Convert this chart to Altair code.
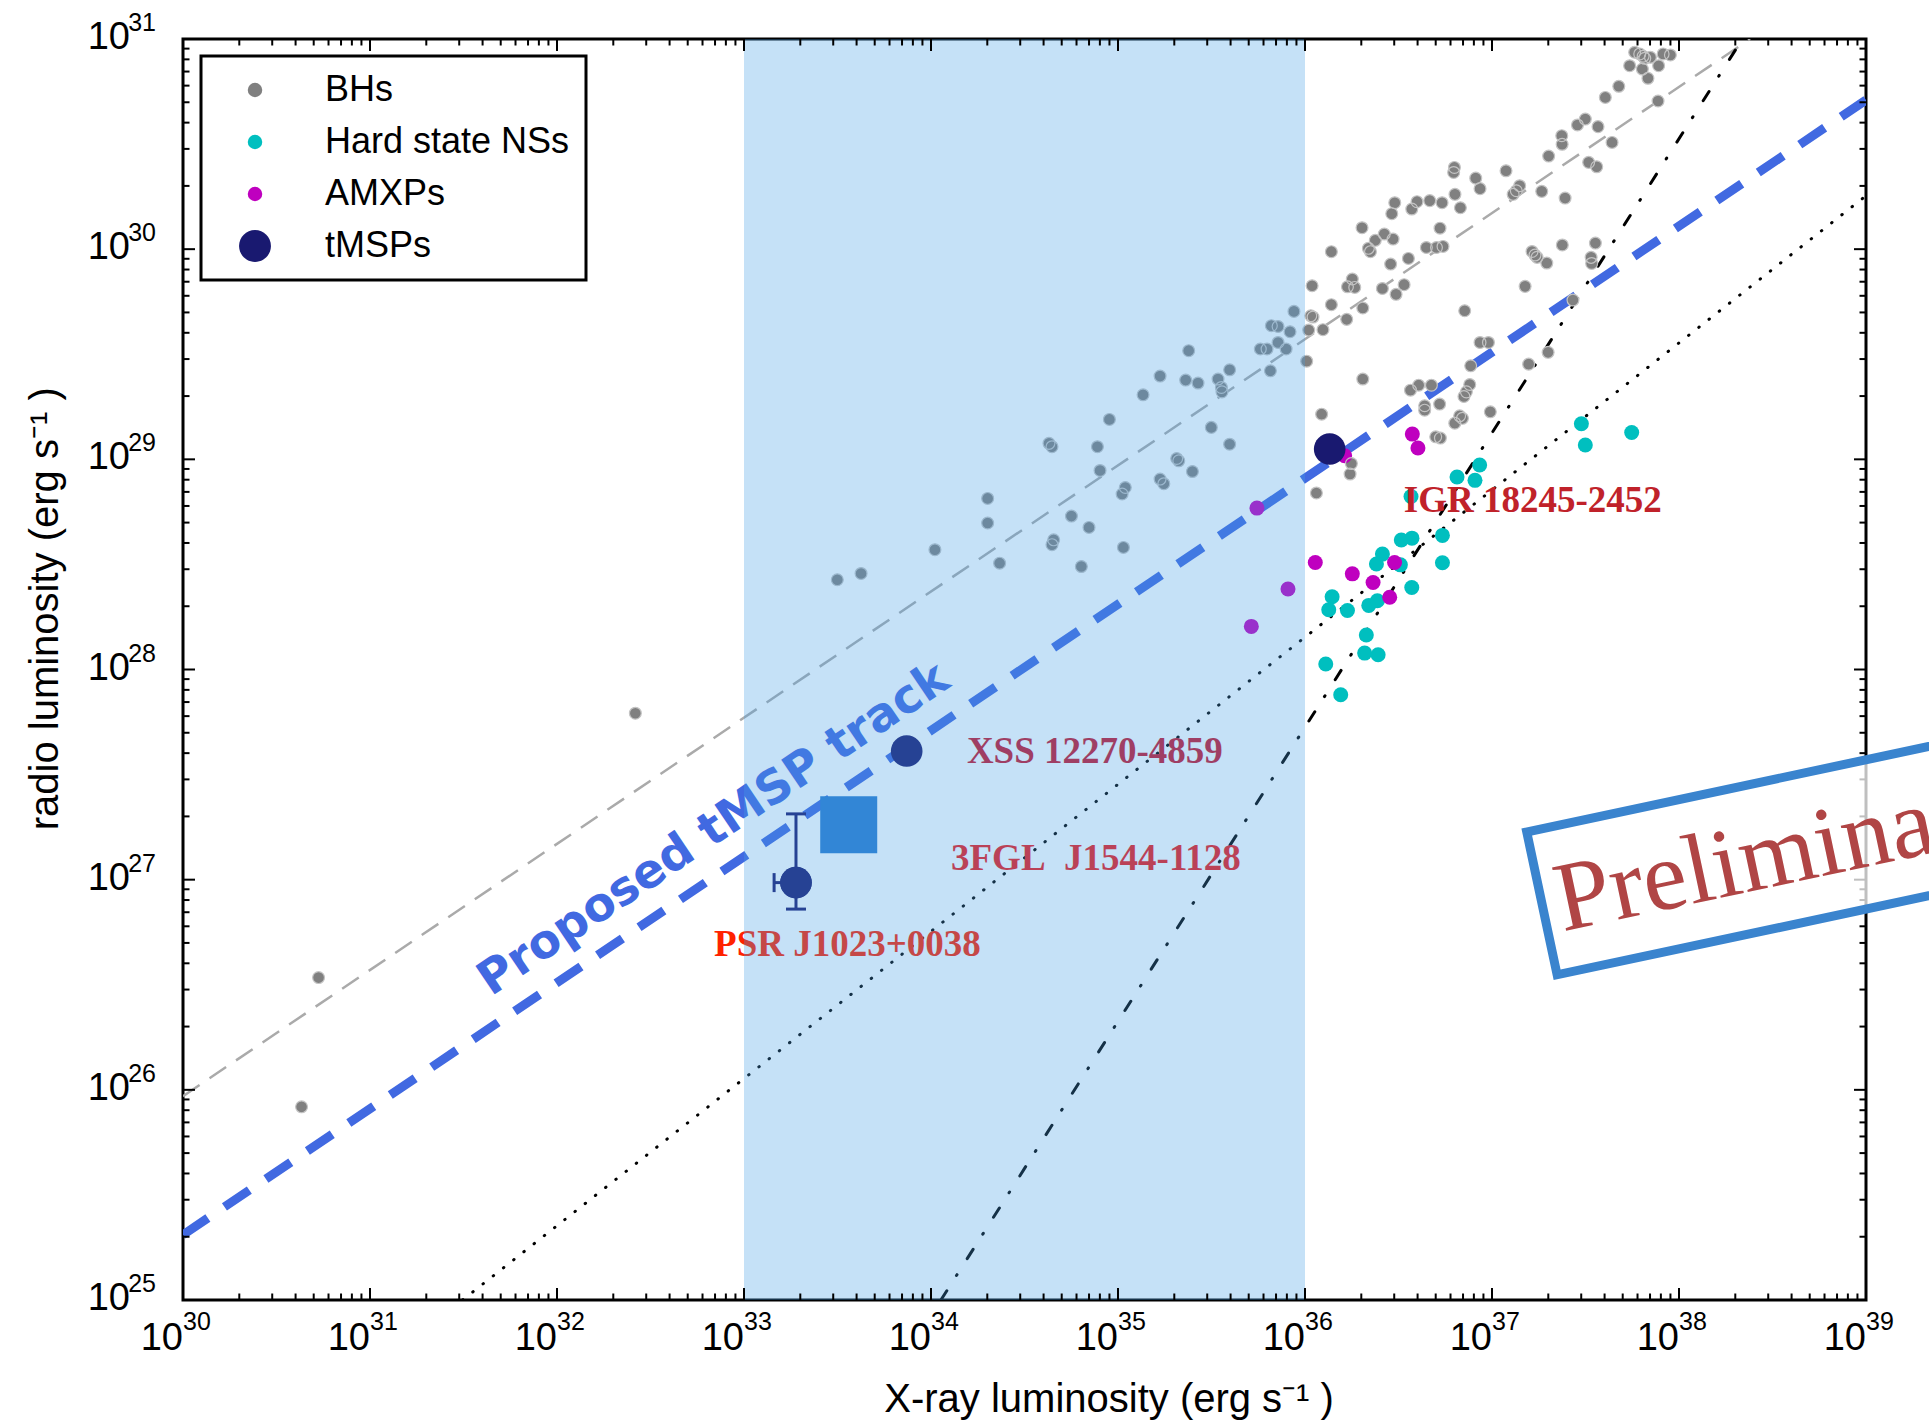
import altair as alt
import pandas as pd

# ---------------- data (log10 luminosities) ----------------
bh_lx = [37.763, 37.790, 37.808, 37.817, 37.847, 37.915, 37.954, 37.736, 37.804, 37.891,
         37.834, 37.678, 37.606, 37.888, 37.457, 37.499, 37.567, 37.642, 37.373, 37.375,
         37.303, 37.517, 37.560, 37.075, 36.799, 36.795, 36.913, 36.936, 37.148, 37.130,
         37.113, 37.266, 37.391, 36.802, 36.831, 36.480, 36.464, 36.599, 36.571, 36.667,
         36.733, 36.305, 36.424, 36.376, 36.471, 36.339, 36.350, 36.722, 36.141, 36.649,
         36.703, 36.738, 36.553, 36.458, 37.214, 37.230, 37.241, 37.293, 37.376, 37.553,
         37.530, 37.533, 36.038, 36.253, 36.227, 36.266, 36.414, 36.487, 36.530, 37.177,
         36.141, 36.309, 36.223, 36.031, 36.043, 36.020, 36.096, 36.854, 37.433, 36.009,
         36.936, 36.981, 37.300, 37.196, 36.886, 36.309, 36.564, 36.608, 36.676, 36.881,
         36.863, 36.850, 36.720, 36.640, 36.640, 36.991, 36.089, 36.827, 36.842, 36.801,
         36.699, 36.724, 36.248, 36.241, 36.061,
         35.941, 35.820, 35.856, 35.920, 35.378, 35.761, 35.797, 35.856, 35.899, 35.362,
         35.428, 35.535, 35.553, 35.556, 35.597, 35.815, 35.499, 35.597, 35.398,
         35.225, 35.134, 34.954, 34.631, 34.647, 34.890, 34.904, 34.303, 34.303, 34.751,
         34.845, 34.656, 34.647, 35.029, 35.039, 35.022, 35.225, 35.245, 35.314, 35.325,
         34.021, 33.499, 33.626, 34.367, 34.804,
         32.419, 30.725, 30.634]
bh_lr = [30.937, 30.929, 30.918, 30.908, 30.913, 30.929, 30.924, 30.873, 30.857, 30.873,
         30.813, 30.775, 30.722, 30.705, 30.591, 30.619, 30.583, 30.508, 30.540, 30.499,
         30.443, 30.413, 30.392, 30.373, 30.389, 30.365, 30.338, 30.288, 30.302, 30.278,
         30.261, 30.275, 30.243, 30.261, 30.197, 30.221, 30.169, 30.226, 30.191, 30.231,
         30.221, 30.102, 30.072, 30.042, 30.048, 30.004, 29.988, 30.100, 29.988, 30.008,
         30.008, 30.013, 29.956, 29.929, 29.989, 29.972, 29.961, 29.934, 30.020, 30.029,
         29.961, 29.932, 29.826, 29.858, 29.821, 29.818, 29.813, 29.785, 29.831, 29.823,
         29.736, 29.720, 29.666, 29.683, 29.677, 29.615, 29.617, 29.707, 29.758, 29.467,
         29.556, 29.556, 29.509, 29.453, 29.445, 29.382, 29.329, 29.353, 29.353, 29.356,
         29.321, 29.299, 29.263, 29.255, 29.234, 29.226, 29.215, 29.207, 29.195, 29.172,
         29.107, 29.101, 28.980, 28.930, 28.840,
         29.704, 29.636, 29.632, 29.607, 29.517, 29.525, 29.525, 29.556, 29.525, 29.377,
         29.363, 29.382, 29.342, 29.321, 29.426, 29.421, 29.152, 29.072, 28.942,
         29.396, 29.307, 29.190, 29.076, 29.060, 29.060, 28.947, 28.814, 28.697, 28.730,
         28.676, 28.617, 28.594, 28.581, 28.866, 28.835, 28.906, 28.884, 29.004, 28.993,
         28.570, 28.427, 28.457, 28.506, 28.490,
         27.792, 26.534, 25.919]

ns_lx = [37.478, 37.747, 37.499, 36.934, 36.813, 36.909, 36.567, 36.515, 36.572, 36.735,
         36.735, 36.414, 36.382, 36.510, 36.571, 36.145, 36.127, 36.227, 36.341, 36.387,
         36.328, 36.319, 36.391, 36.111, 36.191]
ns_lr = [29.169, 29.128, 29.068, 28.973, 28.916, 28.900, 28.823, 28.616, 28.625, 28.638,
         28.508, 28.549, 28.502, 28.498, 28.390, 28.346, 28.284, 28.281, 28.305, 28.327,
         28.164, 28.078, 28.070, 28.026, 27.880]

amxp_lx = [36.574, 36.604, 36.212, 35.743, 36.055, 36.253, 36.364, 36.479, 36.453, 35.909, 35.713]
amxp_lr = [29.120, 29.054, 29.017, 28.768, 28.509, 28.455, 28.414, 28.509, 28.344, 28.383, 28.205]

tmsp_names = ["IGR 18245-2452", "XSS 12270-4859", "PSR J1023+0038"]
tmsp_lx = [36.132, 33.870, 33.278]
tmsp_lr = [29.049, 27.612, 26.986]

# PSR J1023+0038 error bars (log10)
psr_lr_lo, psr_lr_hi = 26.860, 27.313
psr_lx_lo = 33.161

# candidate 3FGL J1544-1128
cand_lx = [33.560]
cand_lr = [27.261]

# correlation lines: endpoints (log10 Lx, log10 Lr)
bh_track_lx, bh_track_lr = [30.0, 38.38], [25.97, 31.0]
tmsp_track_lx, tmsp_track_lr = [30.0, 39.0], [25.31, 30.71]
ns_track_lx, ns_track_lr = [31.495, 39.0], [25.0, 30.254]
steep_track_lx, steep_track_lr = [34.053, 38.339], [25.0, 31.0]

shade_lx = [33.0, 36.0]

label_text = ["IGR 18245-2452", "XSS 12270-4859", "3FGL\u00a0 J1544-1128", "PSR J1023+0038"]
label_lx = [36.528, 34.192, 34.107, 32.840]
label_lr = [28.800, 27.606, 27.098, 26.691]
label_col = ["#C0222A", "#C8142A", "#F01818", "#FF2200"]

track_text_pos = (32.88, 27.183)
stamp_box_pos = (38.661, 27.151)
stamp_text_pos = (38.601, 26.985)

x_title = "X-ray luminosity (erg s\u207b\u00b9 )"
y_title = "radio luminosity (erg s\u207b\u00b9 )"
x_title_pos = (33.75, 25.0)
y_title_pos = (30.0, 27.235)

classes = ["BHs", "Hard state NSs", "AMXPs", "tMSPs"]
class_colors = ["#808080", "#00BFBF", "#BF00BF", "#191970"]
# big circle path (radius 2.2 in unit symbol space) for the tMSPs
BIG = "M -2.2 0 A 2.2 2.2 0 1 0 2.2 0 A 2.2 2.2 0 1 0 -2.2 0 Z"
class_shapes = ["circle", "circle", "circle", BIG]
class_sizes = [140, 225, 225, 207]   # tMSP: 207 * 2.2^2 ~ 1000 px^2

x_exps = list(range(30, 40))
y_exps = list(range(25, 32))

# ---------------- frames ----------------
p = lambda v: 10 ** v
size_of = dict(zip(classes, class_sizes))
cls_list = (["BHs"] * len(bh_lx) + ["Hard state NSs"] * len(ns_lx)
            + ["AMXPs"] * len(amxp_lx) + ["tMSPs"] * len(tmsp_lx))
pts = pd.DataFrame({
    "lx": [p(v) for v in bh_lx + ns_lx + amxp_lx + tmsp_lx],
    "lr": [p(v) for v in bh_lr + ns_lr + amxp_lr + tmsp_lr],
    "cls": cls_list,
    "sz": [size_of[c] for c in cls_list],
})
bh_df = pts[pts.cls == "BHs"]

W, H = 1683, 1261
XS = alt.Scale(type="log", domain=[1e30, 1e39], nice=False)
YS = alt.Scale(type="log", domain=[1e25, 1e31], nice=False)
SANS = "Liberation Sans, Arial, Helvetica, sans-serif"
SERIF = "Liberation Serif, Times New Roman, serif"


def X(f):
    return alt.X(f, type="quantitative", scale=XS, axis=None)


def Y(f):
    return alt.Y(f, type="quantitative", scale=YS, axis=None)


def line_layer(lx, lr, color, width, dash, cap="butt"):
    d = pd.DataFrame({"lx": [p(v) for v in lx], "lr": [p(v) for v in lr]})
    return alt.Chart(d).mark_line(clip=True, color=color, strokeWidth=width,
                                  strokeDash=dash, strokeCap=cap).encode(
        x=X("lx"), y=Y("lr"))


# base layer carrying the (invisible) axes
base = alt.Chart(pd.DataFrame({"lx": [1e30], "lr": [1e25]})).mark_point(opacity=0).encode(
    x=alt.X("lx:Q", scale=XS, axis=alt.Axis(labels=False, ticks=False, domain=False, grid=False, title=None)),
    y=alt.Y("lr:Q", scale=YS, axis=alt.Axis(labels=False, ticks=False, domain=False, grid=False, title=None)),
)

bh_line = line_layer(bh_track_lx, bh_track_lr, "#AAAAAA", 2.5, [20, 12])
ns_line = line_layer(ns_track_lx, ns_track_lr, "black", 3, [0.5, 12.5], cap="round")
steep_line = line_layer(steep_track_lx, steep_track_lr, "black", 3, [11, 18, 1, 19], cap="round")
tmsp_line = line_layer(tmsp_track_lx, tmsp_track_lr, "#4169E1", 9, [30, 20])

legend_kw = dict(title=None, orient="none", legendX=18, legendY=17)
scatter = alt.Chart(pts).mark_point(filled=True, opacity=1).encode(
    x=X("lx"), y=Y("lr"),
    color=alt.Color("cls:N", scale=alt.Scale(domain=classes, range=class_colors),
                    legend=alt.Legend(**legend_kw)),
    shape=alt.Shape("cls:N", scale=alt.Scale(domain=classes, range=class_shapes),
                    legend=alt.Legend(**legend_kw)),
    size=alt.Size("sz:Q", scale=None, legend=None),
)

bh_ring = alt.Chart(bh_df).mark_point(filled=False, opacity=1, color="#C4C4C4",
                                      strokeWidth=1.2, size=140).encode(x=X("lx"), y=Y("lr"))

# PSR J1023 error bars
psr_x = p(tmsp_lx[2])
psr_y = p(tmsp_lr[2])
ebar_v = alt.Chart(pd.DataFrame({"lx": [psr_x], "lo": [p(psr_lr_lo)], "hi": [p(psr_lr_hi)]})).mark_rule(
    color="#191970", strokeWidth=3).encode(x=X("lx"), y=Y("lo"), y2="hi")
ebar_h = alt.Chart(pd.DataFrame({"lo": [p(psr_lx_lo)], "hi": [psr_x], "lr": [psr_y]})).mark_rule(
    color="#191970", strokeWidth=3).encode(x=X("lo"), x2="hi", y=Y("lr"))
cap_v = alt.Chart(pd.DataFrame({"lx": [psr_x, psr_x], "lr": [p(psr_lr_lo), p(psr_lr_hi)]})).mark_tick(
    orient="horizontal", size=20, thickness=3, color="#191970", opacity=1).encode(x=X("lx"), y=Y("lr"))
cap_h = alt.Chart(pd.DataFrame({"lx": [p(psr_lx_lo)], "lr": [psr_y]})).mark_tick(
    orient="vertical", size=19, thickness=3, color="#191970", opacity=1).encode(x=X("lx"), y=Y("lr"))
psr_marker = alt.Chart(pd.DataFrame({"lx": [psr_x], "lr": [psr_y]})).mark_circle(
    opacity=1, color="#191970", size=1000).encode(x=X("lx"), y=Y("lr"))

cand = alt.Chart(pd.DataFrame({"lx": [p(v) for v in cand_lx], "lr": [p(v) for v in cand_lr]})).mark_square(
    opacity=1, color="#2A7CD0", size=3249).encode(x=X("lx"), y=Y("lr"))

labels = alt.Chart(pd.DataFrame({"t": label_text, "lx": [p(v) for v in label_lx],
                                 "lr": [p(v) for v in label_lr], "c": label_col})).mark_text(
    align="left", baseline="middle", font=SERIF, fontSize=37, fontWeight="bold").encode(
    x=X("lx"), y=Y("lr"), text="t:N", color=alt.Color("c:N", scale=None))

track_txt = alt.Chart(pd.DataFrame({"lx": [p(track_text_pos[0])], "lr": [p(track_text_pos[1])],
                                    "t": ["Proposed tMSP track"]})).mark_text(
    align="center", baseline="alphabetic", font="DejaVu Sans, Verdana, sans-serif", fontSize=47,
    fontWeight="bold", color="#4169E1", angle=326).encode(x=X("lx"), y=Y("lr"), text="t:N")

shade = alt.Chart(pd.DataFrame({"a": [p(shade_lx[0])], "b": [p(shade_lx[1])]})).mark_rect(
    color="#449EE5", opacity=0.31).encode(x=X("a"), x2="b", y=alt.datum(1e25), y2=alt.datum(1e31))

# ticks (inward, all four sides)
x_major = pd.DataFrame({"v": [p(e) for e in x_exps]})
x_minor = pd.DataFrame({"v": [k * p(e) for e in x_exps[:-1] for k in range(2, 10)]})
y_major = pd.DataFrame({"v": [p(e) for e in y_exps]})
y_minor = pd.DataFrame({"v": [k * p(e) for e in y_exps[:-1] for k in range(2, 10)]})

tick_layers = []
for dfx, ln in ((x_major, 12), (x_minor, 6.5)):
    tick_layers.append(alt.Chart(dfx).mark_rule(color="black", strokeWidth=2).encode(
        x=X("v"), y=alt.value(0), y2=alt.value(ln)))
    tick_layers.append(alt.Chart(dfx).mark_rule(color="black", strokeWidth=2).encode(
        x=X("v"), y=alt.value(H), y2=alt.value(H - ln)))
for dfy, ln in ((y_major, 12), (y_minor, 6.5)):
    tick_layers.append(alt.Chart(dfy).mark_rule(color="black", strokeWidth=2).encode(
        y=Y("v"), x=alt.value(0), x2=alt.value(ln)))
    tick_layers.append(alt.Chart(dfy).mark_rule(color="black", strokeWidth=2).encode(
        y=Y("v"), x=alt.value(W), x2=alt.value(W - ln)))

xlab = pd.DataFrame({"v": [p(e) for e in x_exps], "e": [str(e) for e in x_exps]})
ylab = pd.DataFrame({"v": [p(e) for e in y_exps], "e": [str(e) for e in y_exps]})
xl_ten = alt.Chart(xlab).mark_text(align="right", baseline="alphabetic", dy=50, font=SANS,
                                   fontSize=38, color="black").encode(
    x=X("v"), y=alt.datum(1e25), text=alt.value("10"))
xl_exp = alt.Chart(xlab).mark_text(align="left", baseline="alphabetic", dy=30, font=SANS,
                                   fontSize=25, color="black").encode(
    x=X("v"), y=alt.datum(1e25), text="e:N")
yl_ten = alt.Chart(ylab).mark_text(align="right", baseline="middle", dx=-53, dy=-1, font=SANS,
                                   fontSize=38, color="black").encode(
    y=Y("v"), x=alt.datum(1e30), text=alt.value("10"))
yl_exp = alt.Chart(ylab).mark_text(align="right", baseline="alphabetic", dx=-27, dy=-8, font=SANS,
                                   fontSize=25, color="black").encode(
    y=Y("v"), x=alt.datum(1e30), text="e:N")

# axis titles
xt = alt.Chart(pd.DataFrame({"lx": [p(x_title_pos[0])], "lr": [p(x_title_pos[1])], "t": [x_title]})).mark_text(
    align="left", baseline="alphabetic", dy=112, font=SANS, fontSize=40, color="black").encode(
    x=X("lx"), y=Y("lr"), text="t:N")
yt = alt.Chart(pd.DataFrame({"lx": [p(y_title_pos[0])], "lr": [p(y_title_pos[1])], "t": [y_title]})).mark_text(
    align="left", baseline="alphabetic", angle=270, dy=-125, font=SANS, fontSize=40, color="black").encode(
    x=X("lx"), y=Y("lr"), text="t:N")

# "Preliminary" stamp
box_path = "M -1 -0.274 L 1 -0.274 L 1 0.274 L -1 0.274 Z"
stamp_df = pd.DataFrame({"lx": [p(stamp_box_pos[0])], "lr": [p(stamp_box_pos[1])]})
stamp_fill = alt.Chart(stamp_df).mark_point(shape=box_path, size=284089, angle=348, filled=True,
                                            color="white", opacity=0.75).encode(x=X("lx"), y=Y("lr"))
stamp_box = alt.Chart(stamp_df).mark_point(shape=box_path, size=284089, angle=348, filled=False,
                                           color="#3A84CE", strokeWidth=9, opacity=1).encode(
    x=X("lx"), y=Y("lr"))
stamp_txt = alt.Chart(pd.DataFrame({"lx": [p(stamp_text_pos[0])], "lr": [p(stamp_text_pos[1])],
                                    "t": ["Preliminary"]})).mark_text(
    align="center", baseline="alphabetic", font=SERIF, fontSize=99, color="#B04545",
    angle=348).encode(x=X("lx"), y=Y("lr"), text="t:N")

chart = alt.layer(
    base, bh_line, ns_line, steep_line, tmsp_line, scatter, bh_ring,
    ebar_v, ebar_h, cap_v, cap_h, psr_marker, cand, labels, track_txt, shade,
    *tick_layers, xl_ten, xl_exp, yl_ten, yl_exp, xt, yt,
    stamp_fill, stamp_box, stamp_txt,
).properties(
    width=W, height=H,
    padding={"left": 183, "top": 39, "right": 63, "bottom": 127},
    autosize=alt.AutoSizeParams(type="none"),
    background="white",
).configure_view(
    stroke="black", strokeWidth=3
).configure_legend(
    padding=16, strokeColor="black", strokeWidth=3, fillColor="white",
    labelFontSize=36, labelFont=SANS, labelColor="black", labelLimit=600,
    rowPadding=16, symbolOffset=20, labelOffset=52, symbolStrokeWidth=0,
    symbolOpacity=1, cornerRadius=0, symbolSize=210,
)

chart.save("out.html", embed_options={"renderer": "svg", "actions": False})
